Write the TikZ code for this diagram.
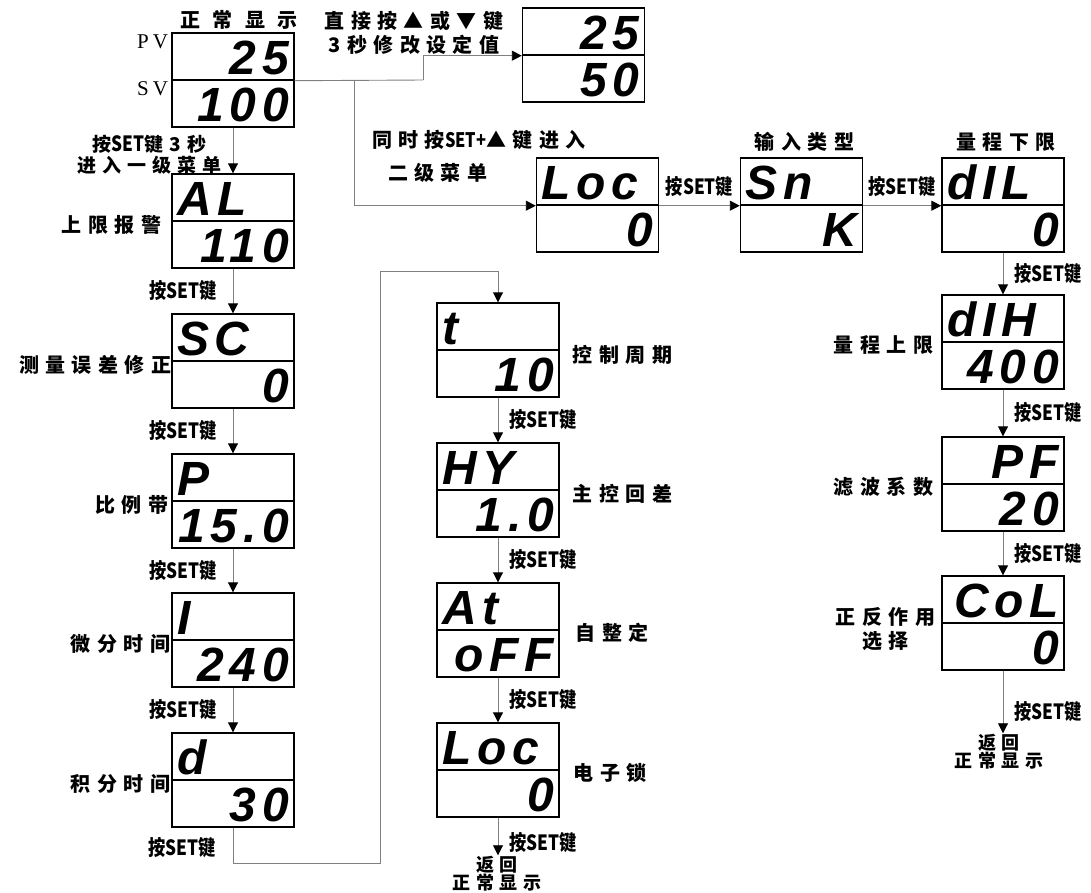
\documentclass[tikz,border=0pt]{standalone}
\usepackage{fontspec}
\usetikzlibrary{arrows.meta,positioning}
\newfontfamily\cjk[LetterSpace=32]{Noto Sans CJK SC}
\newfontfamily\cjkkey[FakeStretch=0.82]{Noto Sans CJK SC}
\newfontfamily\segfont[LetterSpace=12]{Liberation Sans}
\newfontfamily\pvfont[LetterSpace=20]{Liberation Serif}
\begin{document}
\begin{tikzpicture}[x=1pt,y=-1pt]
\tikzstyle{half}=[draw,line width=1.4pt,minimum width=122pt,minimum height=47pt,inner xsep=5pt,inner ysep=0pt,text width=112pt,text height=35pt,text depth=0pt,font=\segfont\bfseries\itshape\fontsize{48}{48}\selectfont]
\tikzstyle{up}=[half,align=left]
\tikzstyle{dn}=[half,align=right]
\tikzstyle{line}=[draw=black!50,line width=0.9pt]
\tikzstyle{arr}=[line,-{Triangle[length=10pt,width=10pt,color=black]}]
\tikzstyle{lbl}=[font=\cjk\bfseries\fontsize{20}{24}\selectfont,inner sep=0pt]
\tikzstyle{key}=[font=\cjkkey\bfseries\fontsize{21}{22}\selectfont,inner sep=1pt]
\tikzstyle{ret}=[font=\cjk\bfseries\fontsize{18}{18}\selectfont,inner sep=1pt,align=center]
\tikzstyle{pvl}=[font=\pvfont\fontsize{21}{21}\selectfont,anchor=north east,inner sep=0pt]
\useasboundingbox (0,0) rectangle (1091,892);
    % normal display and direct change
    \node[dn] (normT) at (233,56.5) {25};
    \node[dn] (normB) at (233,103.5) {100};
    \node[dn] (chgT) at (583.5,31.5) {25};
    \node[dn] (chgB) at (583.5,78.5) {50};
    \node[lbl,above=3pt of normT.north,xshift=6pt,font=\cjk\bfseries\fontsize{20}{24}\selectfont\addfontfeature{LetterSpace=62}] (normx) {正常显示};
    \node[pvl] (pv) at ([xshift=-3pt,yshift=-2pt]normT.north west) {PV};
    \node[pvl] (sv) at ([xshift=-3pt,yshift=-2pt]normB.north west) {SV};
    \node[lbl,align=center] (chgx) at (414,33) {直接按▲或▼键\\3秒修改设定值};
    % second menu
    \node[up] (locT) at (597.5,181.5) {Loc};
    \node[dn] (locB) at (597.5,228.5) {0};
    \node[up] (snT) at (801.5,181.5) {Sn};
    \node[dn] (snB) at (801.5,228.5) {K};
    \node[up] (dilT) at (1003,181.5) {dIL};
    \node[dn] (dilB) at (1003,228.5) {0};
    \node[up] (dihT) at (1003,318.5) {dIH};
    \node[dn] (dihB) at (1003,365.5) {400};
    \node[dn] (pfT) at (1003,460.5) {PF};
    \node[dn] (pfB) at (1003,507.5) {20};
    \node[dn] (colT) at (1003,599.5) {CoL};
    \node[dn] (colB) at (1003,646.5) {0};
    \node[lbl,anchor=west] (menu2a) at (372,140) {同时按{\cjkkey SET+}▲键进入};
    \node[lbl,anchor=west] (menu2b) at (388,173) {二级菜单};
    \node[lbl,above=6pt of snT.north,xshift=3pt] (snx) {输入类型};
    \node[lbl,above=6pt of dilT.north,xshift=3pt] (dilx) {量程下限};
    \node[lbl,left=8pt of dihT.south west,yshift=-2pt] (dihx) {量程上限};
    \node[lbl,left=8pt of pfT.south west,yshift=-2pt] (pfx) {滤波系数};
    \node[lbl,left=6pt of colT.south west,yshift=-5pt,align=center] (colx) {正反作用\\选择};
    % first menu
    \node[up] (alT) at (233,197.5) {AL};
    \node[dn] (alB) at (233,244.5) {110};
    \node[up] (scT) at (233,337.5) {SC};
    \node[dn] (scB) at (233,384.5) {0};
    \node[up] (pT) at (233,477.5) {P};
    \node[dn] (pB) at (233,524.5) {15.0};
    \node[up] (iT) at (233,616.5) {I};
    \node[dn] (iB) at (233,663.5) {240};
    \node[up] (dT) at (233,756.5) {d};
    \node[dn] (dB) at (233,803.5) {30};
    \node[up] (tT) at (498,326.5) {t};
    \node[dn] (tB) at (498,373.5) {10};
    \node[up] (hyT) at (498,466.5) {HY};
    \node[dn] (hyB) at (498,513.5) {1.0};
    \node[up] (atT) at (498,606.5) {At};
    \node[dn] (atB) at (498,653.5) {oFF};
    \node[up] (elkT) at (498,746.5) {Loc};
    \node[dn] (elkB) at (498,793.5) {0};
    \node[lbl,left=10pt of alT.south west,yshift=-3pt] (alx) {上限报警};
    \node[lbl,left=0pt of scT.south west,yshift=-3pt] (scx) {测量误差修正};
    \node[lbl,left=3pt of pT.south west,yshift=-3pt] (px) {比例带};
    \node[lbl,left=1pt of iT.south west,yshift=-3pt] (ix) {微分时间};
    \node[lbl,left=1pt of dT.south west,yshift=-3pt] (dx) {积分时间};
    \node[lbl,right=13pt of tT.south east,yshift=-4pt] (tx) {控制周期};
    \node[lbl,right=13pt of hyT.south east,yshift=-3pt] (hyx) {主控回差};
    \node[lbl,right=16pt of atT.south east,yshift=-2pt] (atx) {自整定};
    \node[lbl,right=14pt of elkT.south east,yshift=-2pt] (elkx) {电子锁};
    \node[ret] (back1) at (497,874) {返回\\正常显示};
    \node[ret] (back2) at (999,752) {返回\\正常显示};
    \coordinate (bend) at (423,80);
    \coordinate (fork) at (354,80);
    \coordinate (lp1) at (380,863);
    \coordinate (lp2) at (380,271);
    % connectors
    \draw[line] (normT.south east) -- (bend);
    \draw[arr] (bend) |- (chgT.south west);
    \draw[arr] (fork) |- (locT.south west);
    \draw[arr] (locT.south east) -- (snT.south west) node[key,midway,above=7pt] (k10) {按SET键};
    \draw[arr] (snT.south east) -- (dilT.south west) node[key,midway,above=7pt] (k11) {按SET键};
    \draw[arr] (dilB) -- (dihT) node[key,midway,right=10pt] (k12) {按SET键};
    \draw[arr] (dihB) -- (pfT) node[key,midway,right=10pt] (k13) {按SET键};
    \draw[arr] (pfB) -- (colT) node[key,midway,right=10pt] (k14) {按SET键};
    \draw[arr] (colB) -- (colB |- back2.north) node[key,pos=0.65,right=10pt] (k15) {按SET键};
    \draw[arr] (normB) -- (alT) node[lbl,midway,left=11pt,yshift=-4pt,align=center,font=\cjk\bfseries\fontsize{19}{21}\selectfont] (enter1) {按{\cjkkey\fontsize{21}{21}\selectfont SET}键3秒\\进入一级菜单};
    \draw[arr] (alB) -- (scT) node[key,midway,left=15pt] (k1) {按SET键};
    \draw[arr] (scB) -- (pT) node[key,midway,left=15pt] (k2) {按SET键};
    \draw[arr] (pB) -- (iT) node[key,midway,left=15pt] (k3) {按SET键};
    \draw[arr] (iB) -- (dT) node[key,midway,left=15pt] (k4) {按SET键};
    \draw[arr] (dB.south) |- (lp1) -- (lp2) -| (tT.north);
    \node[key,anchor=east] (k5) at (217,848) {按SET键};
    \draw[arr] (tB) -- (hyT) node[key,midway,right=10pt] (k6) {按SET键};
    \draw[arr] (hyB) -- (atT) node[key,midway,right=10pt] (k7) {按SET键};
    \draw[arr] (atB) -- (elkT) node[key,midway,right=10pt] (k8) {按SET键};
    \draw[arr] (elkB) -- (elkB |- back1.north) node[key,pos=0.65,right=10pt] (k9) {按SET键};
\end{tikzpicture}
\end{document}
